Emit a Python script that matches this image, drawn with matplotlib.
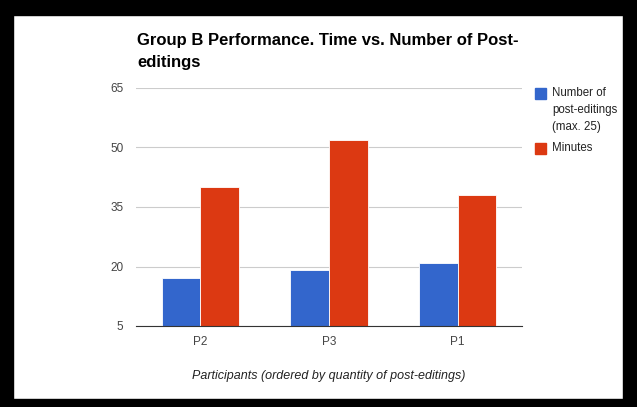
import numpy as np
import matplotlib
matplotlib.use("Agg")
import matplotlib.pyplot as plt
from matplotlib.patches import Rectangle

plt.rcParams['font.family'] = ['Liberation Sans', 'DejaVu Sans']

participants = ["P2", "P3", "P1"]
post_editings = [17, 19, 21]
minutes = [40, 52, 38]
yticks = [5, 20, 35, 50, 65]
series_names = ["Number of\npost-editings\n(max. 25)", "Minutes"]

blue = "#3366CC"
red = "#DC3912"

fig = plt.figure(figsize=(6.37, 4.07), dpi=100)
ax = fig.add_axes([136/637, 1-326/407, 386/637, 238/407])

x = np.arange(len(participants))
w = 0.30
ax.bar(x - w/2, post_editings, w, bottom=0, color=blue, edgecolor="white", linewidth=0.6, zorder=3)
ax.bar(x + w/2, minutes, w, bottom=0, color=red, edgecolor="white", linewidth=0.6, zorder=3)

ax.set_ylim(5, 65)
ax.set_xlim(-0.5, 2.5)
ax.set_yticks(yticks)
ax.set_xticks(x)
ax.set_xticklabels(participants)
ax.tick_params(axis="both", length=0, labelsize=8.5, colors="#444444")
ax.tick_params(axis="y", pad=9)
ax.tick_params(axis="x", pad=7)
ax.grid(axis="y", color="#CCCCCC", linewidth=0.8, zorder=0)
for s in ["top", "right", "left"]:
    ax.spines[s].set_visible(False)
ax.spines["bottom"].set_color("#333333")
ax.spines["bottom"].set_zorder(4)

ax.set_xlabel("Participants (ordered by quantity of post-editings)", fontsize=9,
              style="italic", color="#222222", labelpad=16)

fig.text(137/637, 1-33/407, "Group B Performance. Time vs. Number of Post-\neditings",
         fontsize=12, fontweight="bold", va="top", ha="left", color="#000000",
         linespacing=1.6)

# legend, drawn by hand so the swatch sits next to the first line of the label
legend_rows = [(88, blue, series_names[0]), (143, red, series_names[1])]
for top, col, name in legend_rows:
    fig.patches.append(Rectangle((535/637, 1-(top+11)/407), 11/637, 11/407,
                                 transform=fig.transFigure, color=col))
    fig.text(552/637, 1-(top-1)/407, name, fontsize=8.3, va="top", ha="left",
             color="#222222", linespacing=1.55)

# black frame around the picture
fig.patches.append(Rectangle((0, 0), 13/637, 1, transform=fig.transFigure, color="black"))
fig.patches.append(Rectangle((0, 1-15/407), 1, 15/407, transform=fig.transFigure, color="black"))
fig.patches.append(Rectangle((1-14/637, 0), 14/637, 1, transform=fig.transFigure, color="black"))
fig.patches.append(Rectangle((0, 0), 1, 8/407, transform=fig.transFigure, color="black"))

fig.savefig("out.png", dpi=100)
